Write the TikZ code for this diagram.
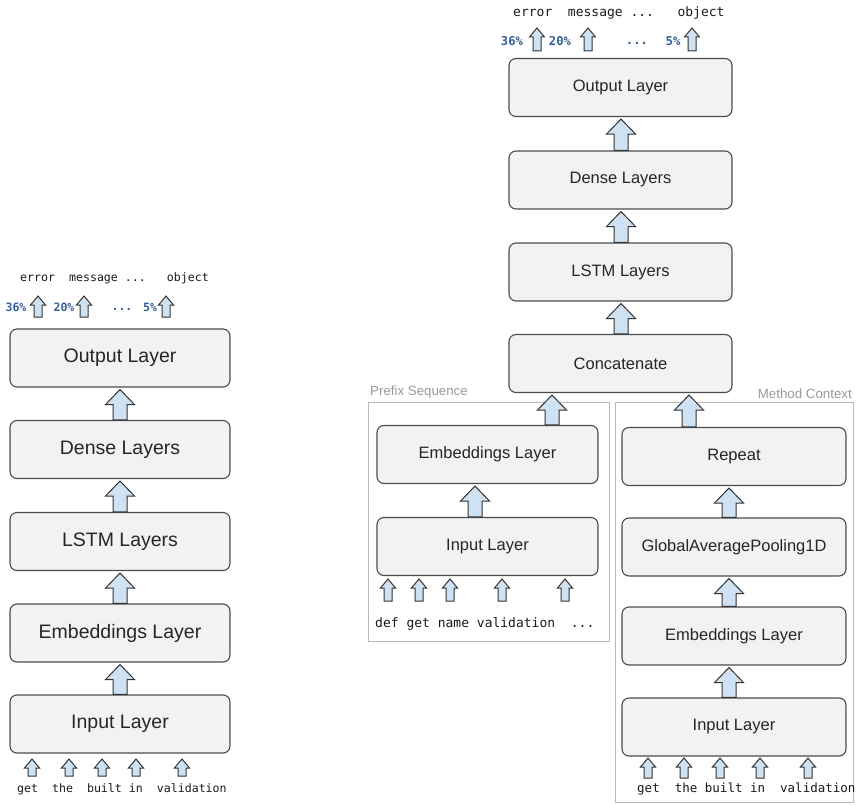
\documentclass[tikz,border=0pt]{standalone}
\usepackage{fontspec}
\usepackage{tikz}
\usetikzlibrary{shapes,arrows,calc}
\newfontfamily\boxfont{Liberation Sans}
\newfontfamily\codefont{DejaVu Sans Mono}
\definecolor{arrowblue}{RGB}{207,226,243}
\definecolor{pctblue}{RGB}{52,94,150}
\definecolor{boxgray}{RGB}{242,242,242}

% block arrow from lower node #2 up to upper node #3, at x = #1
\newcommand{\bigup}[3]{\path[bigarr] let \p1=(#2.north), \p2=(#3.south), \p3=(#1,0) in
  ({\x3-7pt},\y1) -- ({\x3-7pt},{\y2-17pt}) -- ({\x3-14.5pt},{\y2-17pt}) -- (\x3,{\y2-2pt})
  -- ({\x3+14.5pt},{\y2-17pt}) -- ({\x3+7pt},{\y2-17pt}) -- ({\x3+7pt},\y1) -- cycle;}
% small arrow, tip at (#1,#2), length #3
\newcommand{\tinyup}[3]{\path[smallarr] (#1,#2) -- ++(7.5,9) -- ++(-3.5,0) -- ++(0,#3-9)
  -- ++(-8,0) -- ++(0,9-#3) -- ++(-3.5,0) -- cycle;}

\begin{document}
\begin{tikzpicture}[x=1pt, y=-1pt,
  layer/.style={draw=black!70, fill=boxgray, rounded corners=7pt, line width=1.1pt, text=black!85},
  layerL/.style={layer, minimum width=220, minimum height=58, font=\boxfont\fontsize{19.5}{22}\selectfont},
  layerR/.style={layer, minimum width=223, minimum height=58, font=\boxfont\fontsize{16.5}{19}\selectfont},
  group/.style={draw=black!28, line width=0.8pt, inner sep=0pt},
  grouplabel/.style={text=black!40, inner sep=0pt, font=\boxfont\fontsize{13.3}{15}\selectfont},
  bigarr/.style={draw=black!80, fill=arrowblue, line width=1pt},
  smallarr/.style={draw=black!80, fill=arrowblue, line width=1pt},
  word/.style={anchor=west, inner sep=0pt, text=black!90},
  pct/.style={inner sep=0pt, text=pctblue, font=\codefont\bfseries\fontsize{11.5}{13}\selectfont}]
\useasboundingbox (0,0) rectangle (859,805);

% left model
\node[layerL] (outL) at (120,358) {Output Layer};
\node[layerL] (denseL) at (120,449.5) {Dense Layers};
\node[layerL] (lstmL) at (120,541.5) {LSTM Layers};
\node[layerL] (embL) at (120,633) {Embeddings Layer};
\node[layerL] (inpL) at (120,724) {Input Layer};
\bigup{120}{denseL}{outL}
\bigup{120}{lstmL}{denseL}
\bigup{120}{embL}{lstmL}
\bigup{120}{inpL}{embL}

\node[word, font=\codefont\fontsize{11.6}{13}\selectfont] (predL) at (20,278) {error~~message ...~~~object};
\node[pct] (p1L) at (16,307) {36\%};
\node[pct] (p2L) at (64,307) {20\%};
\node[pct] (p3L) at (122,309) {...};
\node[pct] (p4L) at (150,307) {5\%};
\foreach \x in {38,84,166} \tinyup{\x}{296}{21};

\foreach \x in {32,69,102,136,182} \tinyup{\x}{759}{17};
\node[word, font=\codefont\fontsize{11.6}{13}\selectfont] (tokL) at (17,789) {get~~the~~built in~~validation};

% right model
\node[group, minimum width=241, minimum height=239] (prefix) at (488.5,521.5) {};
\node[group, minimum width=238, minimum height=400] (method) at (734,602) {};
\node[grouplabel, anchor=west] (prefixlbl) at (370,392) {Prefix Sequence};
\node[grouplabel, anchor=east] (methodlbl) at (852,394) {Method Context};

\node[layerR] (outR) at (620.5,87.5) {Output Layer};
\node[layerR] (denseR) at (620.5,180) {Dense Layers};
\node[layerR] (lstmR) at (620.5,272) {LSTM Layers};
\node[layerR] (concat) at (620.5,363.5) {Concatenate};
\bigup{621}{denseR}{outR}
\bigup{621}{lstmR}{denseR}
\bigup{621}{concat}{lstmR}

\node[word, font=\codefont\fontsize{13}{15}\selectfont] (predR) at (513,13) {error~~message ...~~~object};
\node[pct, font=\codefont\bfseries\fontsize{12.2}{14}\selectfont] (p1R) at (512,41) {36\%};
\node[pct, font=\codefont\bfseries\fontsize{12.2}{14}\selectfont] (p2R) at (560,41) {20\%};
\node[pct, font=\codefont\bfseries\fontsize{12.2}{14}\selectfont] (p3R) at (637,43) {...};
\node[pct, font=\codefont\bfseries\fontsize{12.2}{14}\selectfont] (p4R) at (673,41) {5\%};
\foreach \x in {537,588,692} \tinyup{\x}{28}{23};

% prefix sequence
\node[layerR, minimum width=221] (embP) at (487.5,454.5) {Embeddings Layer};
\node[layerR, minimum width=221] (inpP) at (487.5,546.5) {Input Layer};
\bigup{475}{inpP}{embP}
\bigup{552}{embP}{concat}
\foreach \x in {388,419,450,502,565} \tinyup{\x}{579}{22};
\node[word, font=\codefont\fontsize{13}{15}\selectfont] (tokP) at (375,624) {def get name validation~~...};

% method context
\node[layerR, minimum width=224] (repeatM) at (734,456.5) {Repeat};
\node[layerR, minimum width=224] (poolM) at (734,547) {GlobalAveragePooling1D};
\node[layerR, minimum width=224] (embM) at (734,636) {Embeddings Layer};
\node[layerR, minimum width=224] (inpM) at (734,727) {Input Layer};
\bigup{689}{repeatM}{concat}
\bigup{729}{poolM}{repeatM}
\bigup{729}{embM}{poolM}
\bigup{729}{inpM}{embM}
\foreach \x in {648,684,720,760,808} \tinyup{\x}{758}{20};
\node[word, font=\codefont\fontsize{12.5}{14}\selectfont] (tokM) at (637,789) {get~~the built in~~validation};
\end{tikzpicture}
\end{document}
